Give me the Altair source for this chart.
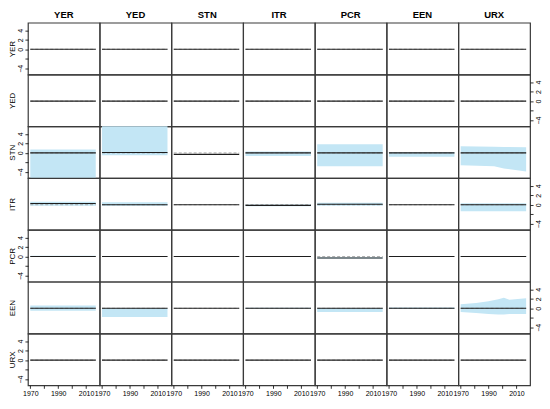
import altair as alt
import pandas as pd

VARS = ["YER", "YED", "STN", "ITR", "PCR", "EEN", "URX"]
FLAT_YEARS = [1970, 2017]
X_DOMAIN = [1968.3, 2019.8]
Y_DOMAIN = [-5.3, 5.6]
X_TICKS = [1970, 1980, 1990, 2000, 2010]
Y_TICKS = [-4, -2, 0, 2, 4]

# impulse response level and band per response row (columns = shocks, same order as VARS)
YER_IRF = [0, 0, 0, 0, 0, 0, 0]
YER_LO = [None] * 7
YER_HI = [None] * 7

YED_IRF = [0, 0, 0, 0, 0, 0, 0]
YED_LO = [None] * 7
YED_HI = [None] * 7

STN_IRF = [0.0, 0.1, -0.3, 0.0, 0.0, 0.0, 0.0]
STN_LO = [-5.8, -0.5, None, -0.65, -2.8, -0.8, None]
STN_HI = [0.7, 5.8, None, 0.3, 1.8, 0.2, None]

ITR_IRF = [0.25, 0.0, 0.0, -0.15, 0.1, 0.0, 0.0]
ITR_LO = [-0.2, -0.2, None, -0.3, -0.2, None, -1.4]
ITR_HI = [0.6, 0.5, None, 0.05, 0.4, None, 0.3]

PCR_IRF = [0.0, 0.0, 0.0, 0.0, -0.3, 0.0, 0.0]
PCR_LO = [-0.1, None, None, None, -0.4, None, -0.1]
PCR_HI = [0.15, None, None, None, -0.15, None, 0.1]

EEN_IRF = [0.0, 0.0, 0.0, 0.0, 0.0, 0.0, 0.0]
EEN_LO = [-0.5, -1.8, None, -0.1, -0.8, -0.15, None]
EEN_HI = [0.6, 0.05, None, 0.1, 0.05, 0.15, None]

URX_IRF = [0, 0, 0, 0, 0, 0, 0]
URX_LO = [None] * 7
URX_HI = [None] * 7

# time-varying bands (response to URX shock)
STN_URX_YEARS = [1970, 1994, 2001, 2017]
STN_URX_LO = [-2.6, -2.8, -3.3, -3.9]
STN_URX_HI = [1.4, 1.3, 1.25, 1.2]

EEN_URX_YEARS = [1970, 1981, 1990, 1997, 2001, 2005, 2017]
EEN_URX_LO = [-0.8, -1.0, -1.2, -1.3, -1.3, -1.2, -1.2]
EEN_URX_HI = [0.85, 1.1, 1.5, 1.9, 2.2, 1.8, 2.1]

ROW_IRF = [YER_IRF, YED_IRF, STN_IRF, ITR_IRF, PCR_IRF, EEN_IRF, URX_IRF]
ROW_LO = [YER_LO, YED_LO, STN_LO, ITR_LO, PCR_LO, EEN_LO, URX_LO]
ROW_HI = [YER_HI, YED_HI, STN_HI, ITR_HI, PCR_HI, EEN_HI, URX_HI]
VARYING = {
    (2, 6): (STN_URX_YEARS, STN_URX_LO, STN_URX_HI),
    (5, 6): (EEN_URX_YEARS, EEN_URX_LO, EEN_URX_HI),
}

W, H = 72, 52
FONT = "Liberation Sans"
BAND = "#C3E6F5"
LINE = "#1e1e1e"


def y_axis(r, c):
    left_labels = r % 2 == 0
    if c == 0:
        return alt.Axis(
            orient="left", values=Y_TICKS, title=VARS[r],
            titleX=-15, titleY=H / 2, titleAngle=-90, titleAlign="center",
            titleBaseline="middle", titleFontSize=8, titleFontWeight="normal",
            labels=left_labels, ticks=left_labels, domain=False, grid=False,
            labelExpr="datum.value == -2 ? '' : datum.label",
            labelAngle=-90, labelAlign="center", labelBaseline="bottom",
            labelFontSize=7, labelPadding=1, tickSize=3,
        )
    if c == 6 and not left_labels:
        return alt.Axis(
            orient="right", values=Y_TICKS, title=None, domain=False, grid=False,
            labelExpr="datum.value == -2 ? '' : datum.label",
            labelAngle=-90, labelAlign="center", labelBaseline="top",
            labelFontSize=7, labelPadding=1, tickSize=3,
        )
    return None


def x_axis(r):
    if r != 6:
        return None
    return alt.Axis(
        values=X_TICKS, format="d", title=None, domain=False, grid=False,
        labelExpr="(datum.value - 1970) % 20 == 0 ? datum.label : ''",
        labelFontSize=7, labelPadding=1, tickSize=3, labelFlush=False,
    )


def panel(r, c):
    irf = ROW_IRF[r][c]
    if (r, c) in VARYING:
        years, lo, hi = VARYING[(r, c)]
    else:
        years = FLAT_YEARS
        lo = [ROW_LO[r][c]] * len(years)
        hi = [ROW_HI[r][c]] * len(years)
    df = pd.DataFrame({
        "year": years,
        "irf": [irf] * len(years),
        "zero": [0] * len(years),
        "lo": lo,
        "hi": hi,
    })
    xs = alt.Scale(domain=X_DOMAIN, nice=False, zero=False)
    ys = alt.Scale(domain=Y_DOMAIN, nice=False, zero=False)
    xa = x_axis(r)
    ya = y_axis(r, c)
    layers = []
    if hi[0] is not None:
        layers.append(
            alt.Chart(df).mark_area(color=BAND, opacity=1, clip=True).encode(
                x=alt.X("year:Q", scale=xs, axis=xa),
                y=alt.Y("lo:Q", scale=ys, axis=ya),
                y2="hi:Q",
            )
        )
    layers.append(
        alt.Chart(df).mark_line(color="#9a9a9a", strokeDash=[3, 2], strokeWidth=0.8).encode(
            x=alt.X("year:Q", scale=xs, axis=xa),
            y=alt.Y("zero:Q", scale=ys, axis=ya),
        )
    )
    layers.append(
        alt.Chart(df).mark_line(color=LINE, strokeWidth=1.1).encode(
            x=alt.X("year:Q", scale=xs, axis=xa),
            y=alt.Y("irf:Q", scale=ys, axis=ya),
        )
    )
    ch = alt.layer(*layers).properties(width=W, height=H)
    if r == 0:
        ch = ch.properties(title=alt.TitleParams(
            VARS[c], fontSize=9.5, fontWeight="bold", font=FONT, offset=3, anchor="middle"))
    return ch


panels = [panel(r, c) for r in range(7) for c in range(7)]

chart = alt.concat(*panels, columns=7, spacing=0, bounds="flush").properties(
    padding={"left": 0, "top": 0, "right": 0, "bottom": 0}
).configure_view(
    stroke="#3a3a3a", strokeWidth=1.2
).configure_axis(
    labelFont=FONT, titleFont=FONT, labelColor="#000", titleColor="#000",
    tickColor="#000", tickWidth=0.8,
)

chart.save("out.html", embed_options={"renderer": "svg", "actions": False})
